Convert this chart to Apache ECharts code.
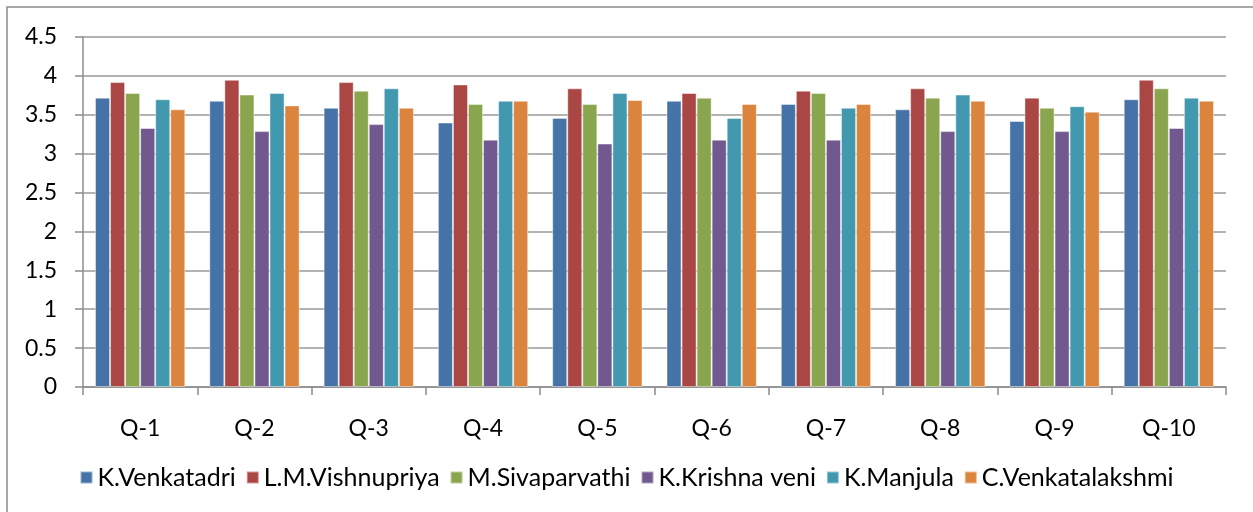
<!DOCTYPE html>
<html>
<head>
<meta charset="utf-8">
<title>Q ratings</title>
<script src="https://cdn.jsdelivr.net/npm/echarts@6/dist/echarts.min.js"></script>
<style>
  html, body { margin: 0; padding: 0; background: #fff; }
  #chart { width: 1253px; height: 512px; }
</style>
</head>
<body>
<div id="chart"></div>
<script>
// categories and tick labels
var questions = ['Q-1', 'Q-2', 'Q-3', 'Q-4', 'Q-5', 'Q-6', 'Q-7', 'Q-8', 'Q-9', 'Q-10'];
var names = ['K.Venkatadri', 'L.M.Vishnupriya', 'M.Sivaparvathi', 'K.Krishna veni', 'K.Manjula', 'C.Venkatalakshmi'];

// values
var venkatadri    = [3.72, 3.68, 3.59, 3.40, 3.46, 3.68, 3.64, 3.57, 3.42, 3.70];
var vishnupriya   = [3.92, 3.95, 3.92, 3.89, 3.84, 3.78, 3.81, 3.84, 3.72, 3.95];
var sivaparvathi  = [3.78, 3.76, 3.81, 3.64, 3.64, 3.72, 3.78, 3.72, 3.59, 3.84];
var krishnaveni   = [3.33, 3.29, 3.38, 3.18, 3.13, 3.18, 3.18, 3.29, 3.29, 3.33];
var manjula       = [3.70, 3.78, 3.84, 3.68, 3.78, 3.46, 3.59, 3.76, 3.61, 3.72];
var venkatalaksmi = [3.57, 3.62, 3.59, 3.68, 3.69, 3.64, 3.64, 3.68, 3.54, 3.68];

var values = [venkatadri, vishnupriya, sivaparvathi, krishnaveni, manjula, venkatalaksmi];
var colors = ['#4572A7', '#AA4643', '#89A54E', '#71588F', '#4198AF', '#DB843D'];

var myChart = echarts.init(document.getElementById('chart'));

var series = [];
for (var i = 0; i < names.length; i++) {
    series.push({
        name: names[i],
        type: 'bar',
        data: values[i],
        barGap: '0%',
        barCategoryGap: '21%',
        itemStyle: {
            color: colors[i],
            borderColor: 'rgba(255,255,255,0.45)',
            borderWidth: 1
        }
    });
}

var option = {
    animation: false,
    color: colors,
    textStyle: { fontFamily: 'Lato, "Open Sans", sans-serif' },
    grid: {
        left: 83,
        right: 27,
        top: 37,
        bottom: 125
    },
    // outer chart frame
    graphic: [{
        type: 'rect',
        shape: { x: 7, y: 7, width: 1270, height: 530 },
        style: { fill: 'none', stroke: '#8c8c8c', lineWidth: 1.5 },
        silent: true
    }],
    legend: {
        bottom: 17,
        left: 'center',
        itemWidth: 12,
        itemHeight: 12,
        itemGap: 10,
        icon: 'rect',
        textStyle: { fontSize: 25, color: '#000', fontFamily: 'Lato, sans-serif' }
    },
    xAxis: {
        type: 'category',
        data: questions,
        axisLine: { lineStyle: { color: '#8c8c8c', width: 1.5 } },
        axisTick: { show: true, length: 8, lineStyle: { color: '#8c8c8c', width: 1.5 } },
        axisLabel: { color: '#000', fontSize: 23, margin: 30 }
    },
    yAxis: {
        type: 'value',
        min: 0,
        max: 4.5,
        interval: 0.5,
        axisLine: { show: true, lineStyle: { color: '#8c8c8c', width: 1.5 } },
        axisTick: { show: true, length: 8, lineStyle: { color: '#8c8c8c', width: 1.5 } },
        axisLabel: { color: '#000', fontSize: 23, margin: 26 },
        splitLine: { lineStyle: { color: '#9a9a9a', width: 1.5 } }
    },
    series: series
};
myChart.setOption(option);
</script>
</body>
</html>
